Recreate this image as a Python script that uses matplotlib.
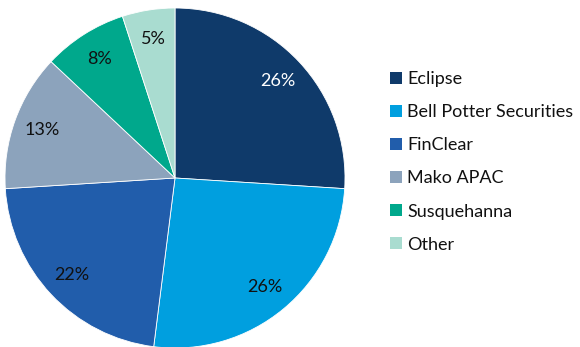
import matplotlib
matplotlib.use("Agg")
import matplotlib.pyplot as plt
from matplotlib.patches import Patch
import numpy as np

categories = ["Eclipse", "Bell Potter Securities", "FinClear", "Mako APAC", "Susquehanna", "Other"]
shares = [26, 26, 22, 13, 8, 5]
colors = ["#0F3A6A", "#009FDF", "#215DAB", "#8CA3BC", "#00A88C", "#A9DCD0"]
label_colors = ["white", "#111111", "#111111", "#111111", "#111111", "#111111"]

plt.rcParams['font.family'] = ['Lato', 'DejaVu Sans']

W, H = 580, 347
fig = plt.figure(figsize=(W / 100, H / 100), dpi=100)
cx, cy, r = 175, 178, 170
ax = fig.add_axes([(cx - r) / W, (H - cy - r) / H, 2 * r / W, 2 * r / H])
wedges, texts = ax.pie(shares, colors=colors, startangle=90, counterclock=False,
                       radius=1, wedgeprops=dict(edgecolor="white", linewidth=0.6))[:2]
total = sum(shares)
ang = 90
for s, lc in zip(shares, label_colors):
    mid = ang - s / total * 360 / 2
    ang -= s / total * 360
    x = 0.83 * np.cos(np.radians(mid))
    y = 0.83 * np.sin(np.radians(mid))
    ax.text(x, y, f"{s}%", ha="center", va="center", fontsize=13, color=lc)
ax.set_xlim(-1, 1)
ax.set_ylim(-1, 1)
ax.set_aspect("auto")
ax.axis("off")

handles = [Patch(facecolor=c, edgecolor="none") for c in colors]
leg = fig.legend(handles, categories, loc="upper left",
                 bbox_to_anchor=(390 / W, 1 - 71 / H), frameon=False,
                 fontsize=13, handlelength=0.65, handleheight=0.65,
                 handletextpad=0.3, labelspacing=0.95, borderpad=0, borderaxespad=0)
for t in leg.get_texts():
    t.set_color("#111111")

fig.savefig("out.png", dpi=100)
